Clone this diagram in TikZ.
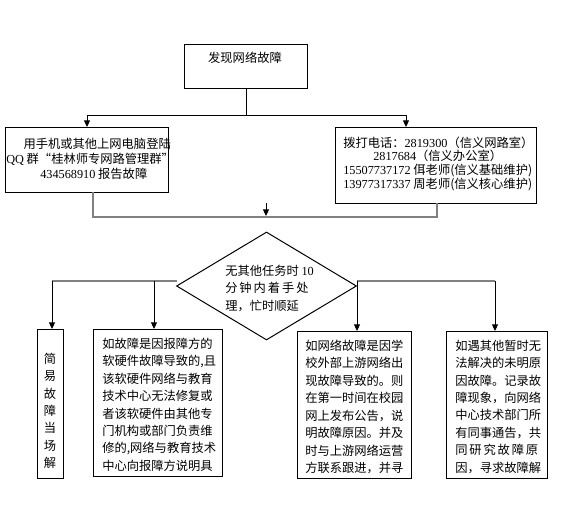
\documentclass[tikz,border=0pt]{standalone}
\usepackage{fontspec}
\setmainfont{Noto Sans CJK SC}
\newfontfamily\tms{Liberation Serif}
\usetikzlibrary{shapes.geometric,arrows.meta}
\begin{document}
\begin{tikzpicture}[x=0.75pt,y=-0.75pt,
  box/.style={draw,line width=0.75pt,inner sep=0pt,anchor=north west},
  txt/.style={inner sep=0pt,align=left,anchor=north west,font=\fontsize{9.2}{13.1}\selectfont},
  con/.style={line width=0.75pt},
  arr/.style={con,-{Triangle[length=5pt,width=4.5pt]}},
  gcon/.style={line width=1.2pt,color=gray}
]
\useasboundingbox (0,0) rectangle (562,509);
% boxes
\node[box,minimum width=92.25pt,minimum height=33pt] (top) at (184,44) {};
\node[box,minimum width=122.25pt,minimum height=48.75pt] (lbox) at (5,127) {};
\node[box,minimum width=150.75pt,minimum height=57pt] (rbox) at (335,127) {};
\node[draw,line width=0.75pt,diamond,inner sep=0pt,minimum width=135pt,minimum height=81pt] (dia) at (266.5,286) {};
\node[box,minimum width=19.5pt,minimum height=111.75pt] (abox) at (37,329) {};
\node[box,minimum width=96.75pt,minimum height=110.25pt] (bbox) at (93,329) {};
\node[box,minimum width=85.5pt,minimum height=110.25pt] (cbox) at (297,331) {};
\node[box,minimum width=75.75pt,minimum height=110.25pt] (dbox) at (446,331) {};
% texts
\node[txt,anchor=center] (toptxt) at (245,58) {发现网络故障};
\node[txt,font=\fontsize{9.2}{11.25}\selectfont] (ltxt) at (6,137.5) {\hspace*{13pt}用手机或其他上网电脑登陆\\{\tms QQ} 群“桂林师专网路管理群”\\\hspace*{25.5pt}{\tms 434568910} 报告故障};
\node[txt,font=\fontsize{9.2}{10.3}\selectfont] (rtxt) at (343,136.5) {拨打电话：{\tms 2819300}（信义网路室）\\\hspace*{22.5pt}{\tms 2817684}（信义办公室）\\{\tms 15507737172} 佴老师(信义基础维护)\\{\tms 13977317337} 周老师(信义核心维护)};
\node[txt] (dtxt) at (225,264.5) {无其他任务时 {\tms 10}\\\makebox[62.5pt][s]{分\hfill 钟\hfill 内\hfill 着\hfill 手\hfill 处}\\理，忙时顺延};
\node[txt,anchor=center,align=center,font=\fontsize{9.2}{13}\selectfont] (atxt) at (50,411) {简\\易\\故\\障\\当\\场\\解};
\node[txt] (btxt) at (102,337.5) {如故障是因报障方的\\软硬件故障导致的,且\\该软硬件网络与教育\\技术中心无法修复或\\者该软硬件由其他专\\门机构或部门负责维\\修的,网络与教育技术\\中心向报障方说明具};
\node[txt] (ctxt) at (305,339.5) {如网络故障是因学\\校外部上游网络出\\现故障导致的。则\\在第一时间在校园\\网上发布公告，说\\明故障原因。并及\\时与上游网络运营\\方联系跟进，并寻};
\node[txt] (dtxt2) at (455,339.5) {如遇其他暂时无\\法解决的未明原\\因故障。记录故\\障现象，向网络\\中心技术部门所\\有同事通告，共\\\makebox[62.25pt][s]{同\hfill 研\hfill 究\hfill 故\hfill 障\hfill 原}\\因，寻求故障解};
% connectors top
\draw[con] (top.south) -- ++(0,27) coordinate (j1);
\coordinate (rin) at (406,127);
\draw[arr] (j1) -| (lbox.north);
\draw[arr] (j1) -| (rin);
% bottom of level 2
\coordinate (lout) at (93,192);
\coordinate (rout) at (437,203);
\draw[gcon] (lout) -- ++(0,25) -| (rout);
\coordinate (s1) at (266,203);
\coordinate (s2) at (266,216);
\draw[arr] (s1) -- (s2);
% lower branches
\coordinate (dl) at (177,281);
\coordinate (ja) at (52,281);
\coordinate (jb) at (154,281);
\draw[gcon] (dl) -- (ja);
\draw[arr] (ja) -- (ja |- abox.north);
\draw[arr] (jb) -- (jb |- bbox.north);
\coordinate (dr) at (357,281);
\coordinate (jd) at (495,281);
\draw[gcon] (dr) -- (jd);
\draw[arr] (dr) -- (dr |- cbox.north);
\draw[arr] (jd) -- (jd |- dbox.north);
\end{tikzpicture}
\end{document}
